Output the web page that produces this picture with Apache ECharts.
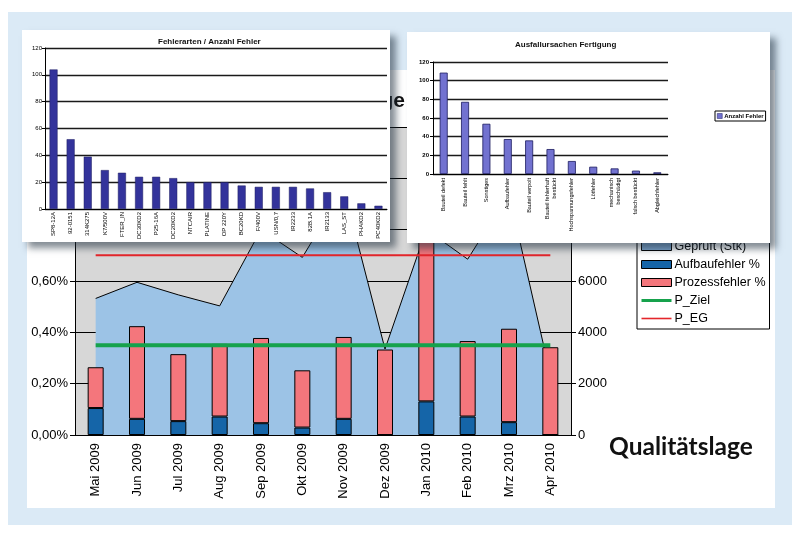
<!DOCTYPE html>
<html lang="de">
<head>
<meta charset="utf-8">
<title>Qualitätslage</title>
<script src="https://cdn.jsdelivr.net/npm/echarts@6.0.0/dist/echarts.min.js"></script>
<style>
  body { margin: 0; width: 800px; height: 537px; background: #fff; position: relative; overflow: hidden; }
  .panel { position: absolute; left: 8px; top: 12px; width: 784px; height: 513px; background: #dbeaf6; }
  .box { position: absolute; background: #fff; }
  .shadow { box-shadow: 6px 6px 7px rgba(30, 45, 60, 0.55); }
</style>
</head>
<body>
<div class="panel"></div>
<div id="main" class="box" style="left:27px;top:70px;width:748px;height:438px"></div>
<div id="fehlerarten" class="box shadow" style="left:22px;top:30px;width:368px;height:212px"></div>
<div id="ausfall" class="box shadow" style="left:407px;top:32px;width:363px;height:211px"></div>
<script>
// Hauptdiagramm: Qualitätslage
const months = ['Mai 2009', 'Jun 2009', 'Jul 2009', 'Aug 2009', 'Sep 2009', 'Okt 2009',
                'Nov 2009', 'Dez 2009', 'Jan 2010', 'Feb 2010', 'Mrz 2010', 'Apr 2010'];
const geprueft = [5320, 5950, 5460, 5030, 8000, 6920, 9600, 3350, 8000, 6850, 9400, 2350];
const aufbaufehler = [0.105, 0.063, 0.054, 0.072, 0.046, 0.029, 0.063, 0, 0.131, 0.072, 0.050, 0];
const prozessfehler = [0.159, 0.361, 0.261, 0.283, 0.332, 0.223, 0.319, 0.333, 0.950, 0.294, 0.364, 0.342];
const pZiel = [0.35, 0.35, 0.35, 0.35, 0.35, 0.35, 0.35, 0.35, 0.35, 0.35, 0.35, 0.35];
const pEG = [0.70, 0.70, 0.70, 0.70, 0.70, 0.70, 0.70, 0.70, 0.70, 0.70, 0.70, 0.70];

// Fehlerarten / Anzahl Fehler
const fehlerTypen = ['SP8-12A', '92-0151', '314K275', 'K7/500V', 'FTER_IN', 'DC30KD2', 'P25-16A',
                     'DC20KD2', 'NTCAIR', 'PLATINE', 'OP 220Y', 'BC20KD', 'F/400V', 'USN/0,7',
                     'IR2233', '82B.1A', 'IR2133', 'LAS_ST', 'PHAKD2', 'PC40KD2'];
const fehlerAnzahl = [104, 52, 39, 29, 27, 24, 24, 23, 20, 20, 20, 17.5, 16.5, 16.5, 16.5, 15.3, 12.5, 9.4, 4.2, 2.4];

// Ausfallursachen Fertigung
const ursachen = ['Bauteil defekt', 'Bauteil fehlt', 'Sonstiges', 'Aufbaufehler', 'Bauteil verpolt',
                  'Bauteil fehlerhaft\nbestückt', 'Hochspannungsfehler', 'Lötfehler',
                  'mechanisch\nbeschädigt', 'falsch bestückt', 'Abgleichfehler'];
const ursachenAnzahl = [108.6, 77.3, 53.8, 37.4, 36, 26.7, 13.9, 7.8, 6, 3.6, 1.8];

const FONT = 'Liberation Sans, Arial, sans-serif';

var mainChart = echarts.init(document.getElementById('main'), null, { renderer: 'canvas' });
mainChart.setOption({
    animation: false,
    textStyle: { fontFamily: FONT },
    title: {
        text: 'Qualitätslage',
        right: 365, top: 16,
        textStyle: { fontSize: 21, fontWeight: 'bold', color: '#111', fontFamily: FONT }
    },
    graphic: [{
        type: 'text', left: 582, top: 365,
        style: { text: 'Qualitätslage', fill: '#111', font: 'bold 24.5px Lato, sans-serif' }
    }],
    grid: {
        left: 48, top: 57, width: 496, height: 308,
        show: true, backgroundColor: '#d7d7d7', borderWidth: 0
    },
    legend: {
        orient: 'vertical',
        left: 610, top: 166,
        padding: [4, 4, 4, 4],
        itemGap: 5, itemWidth: 30, itemHeight: 8,
        backgroundColor: '#fff', borderColor: '#000', borderWidth: 1,
        textStyle: { fontSize: 12.5, color: '#000', fontFamily: FONT, padding: [0, 0, 0, -2] },
        data: [
            { name: 'Geprüft (Stk)', icon: 'rect', itemStyle: { color: '#7fa7d0', borderColor: '#000', borderWidth: 1 } },
            { name: 'Aufbaufehler %', icon: 'rect', itemStyle: { color: '#1565a8', borderColor: '#000', borderWidth: 1 } },
            { name: 'Prozessfehler %', icon: 'rect', itemStyle: { color: '#f4767c', borderColor: '#000', borderWidth: 1 } },
            { name: 'P_Ziel', icon: 'path://M0,0 H30 V3 H0 Z', itemStyle: { color: '#16a24c' } },
            { name: 'P_EG', icon: 'path://M0,0 H30 V1.6 H0 Z', itemStyle: { color: '#e4262b' } }
        ]
    },
    xAxis: {
        type: 'category',
        data: months,
        axisLine: { lineStyle: { color: '#000', width: 1 } },
        axisTick: { length: 5, lineStyle: { color: '#000' } },
        axisLabel: { rotate: 90, margin: 8, fontSize: 13, color: '#000', fontFamily: FONT }
    },
    yAxis: [
        {   // Fehleranteil in %
            type: 'value', min: 0, max: 1.2, interval: 0.2,
            axisLine: { show: true, lineStyle: { color: '#000' } },
            axisTick: { show: true, length: 5, lineStyle: { color: '#000' } },
            axisLabel: {
                margin: 7, fontSize: 13, color: '#000', fontFamily: FONT,
                formatter: v => v.toFixed(2).replace('.', ',') + '%'
            },
            splitLine: { show: true, lineStyle: { color: '#000', width: 1 } }
        },
        {   // geprüfte Stückzahl
            type: 'value', min: 0, max: 12000, interval: 2000, position: 'right',
            axisLine: { show: true, lineStyle: { color: '#000' } },
            axisTick: { show: true, length: 5, lineStyle: { color: '#000' } },
            axisLabel: { margin: 7, fontSize: 13, color: '#000', fontFamily: FONT, formatter: v => String(v) },
            splitLine: { show: false }
        }
    ],
    series: [
        {
            name: 'Geprüft (Stk)', type: 'line', yAxisIndex: 1, z: 1,
            data: geprueft, symbol: 'none',
            lineStyle: { color: '#000', width: 1 },
            itemStyle: { color: '#7fa7d0' },
            areaStyle: { color: '#9cc3e6', opacity: 1 }
        },
        {
            name: 'Aufbaufehler %', type: 'bar', stack: 'fehler', yAxisIndex: 0, z: 2,
            data: aufbaufehler, barWidth: 16,
            itemStyle: { color: '#1565a8', borderColor: '#000', borderWidth: 1 }
        },
        {
            name: 'Prozessfehler %', type: 'bar', stack: 'fehler', yAxisIndex: 0, z: 2,
            data: prozessfehler, barWidth: 16,
            itemStyle: { color: '#f4767c', borderColor: '#000', borderWidth: 1 }
        },
        {
            name: 'P_Ziel', type: 'line', yAxisIndex: 0, z: 4,
            data: pZiel, symbol: 'none',
            lineStyle: { color: '#16a24c', width: 4 },
            itemStyle: { color: '#16a24c' }
        },
        {
            name: 'P_EG', type: 'line', yAxisIndex: 0, z: 3,
            data: pEG, symbol: 'none',
            lineStyle: { color: '#e4262b', width: 2 },
            itemStyle: { color: '#e4262b' }
        }
    ]
});

// kleines Balkendiagramm links
var fehlerChart = echarts.init(document.getElementById('fehlerarten'), null, { renderer: 'canvas' });
fehlerChart.setOption({
    animation: false,
    title: {
        text: 'Fehlerarten / Anzahl Fehler', left: 131, top: 3,
        textStyle: { fontSize: 8, fontWeight: 'bold', color: '#111', fontFamily: FONT }
    },
    grid: { left: 23, right: 3, top: 18, bottom: 26 },
    xAxis: {
        type: 'category', data: fehlerTypen,
        axisLine: { lineStyle: { color: '#000' } },
        axisTick: { show: false },
        axisLabel: { rotate: 90, margin: 3, fontSize: 6, color: '#000', fontFamily: FONT, interval: 0 }
    },
    yAxis: {
        type: 'value', min: 0, max: 120, interval: 20,
        axisLine: { show: true, lineStyle: { color: '#000' } },
        axisTick: { show: true, length: 3, lineStyle: { color: '#000' } },
        axisLabel: { margin: 3, fontSize: 6, color: '#000', fontFamily: FONT },
        splitLine: { lineStyle: { color: '#1a1a1a', width: 1.3 } }
    },
    series: [{
        name: 'Anzahl Fehler', type: 'bar', data: fehlerAnzahl, barWidth: 8,
        itemStyle: { color: '#33339b', borderColor: '#1c1c60', borderWidth: 0.5 }
    }]
});

// kleines Balkendiagramm rechts
var ausfallChart = echarts.init(document.getElementById('ausfall'), null, { renderer: 'canvas' });
ausfallChart.setOption({
    animation: false,
    title: {
        text: 'Ausfallursachen Fertigung', left: 103, top: 4,
        textStyle: { fontSize: 8, fontWeight: 'bold', color: '#111', fontFamily: FONT }
    },
    legend: {
        left: 308, top: 79, padding: [2, 2, 2, 2],
        itemWidth: 5, itemHeight: 5, itemGap: 2,
        borderColor: '#000', borderWidth: 1, icon: 'rect',
        textStyle: { fontSize: 6, fontWeight: 'bold', color: '#000', fontFamily: FONT, padding: [0, 0, 0, -3] },
        data: [{ name: 'Anzahl Fehler', itemStyle: { color: '#7272d0', borderColor: '#1c1c60', borderWidth: 0.5 } }]
    },
    grid: { left: 26, right: 102, top: 30, bottom: 69 },
    xAxis: {
        type: 'category', data: ursachen,
        axisLine: { lineStyle: { color: '#000' } },
        axisTick: { length: 2, lineStyle: { color: '#000' } },
        axisLabel: { rotate: 90, margin: 4, fontSize: 5.5, color: '#000', fontFamily: FONT, interval: 0, lineHeight: 7 }
    },
    yAxis: {
        type: 'value', min: 0, max: 120, interval: 20,
        axisLine: { show: true, lineStyle: { color: '#000' } },
        axisTick: { show: true, length: 3, lineStyle: { color: '#000' } },
        axisLabel: { margin: 4, fontSize: 6, fontWeight: 'bold', color: '#000', fontFamily: FONT },
        splitLine: { lineStyle: { color: '#1a1a1a', width: 1.3 } }
    },
    series: [{
        name: 'Anzahl Fehler', type: 'bar', data: ursachenAnzahl, barWidth: 8,
        itemStyle: { color: '#7272d0', borderColor: '#1c1c60', borderWidth: 0.8 }
    }]
});
</script>
</body>
</html>
